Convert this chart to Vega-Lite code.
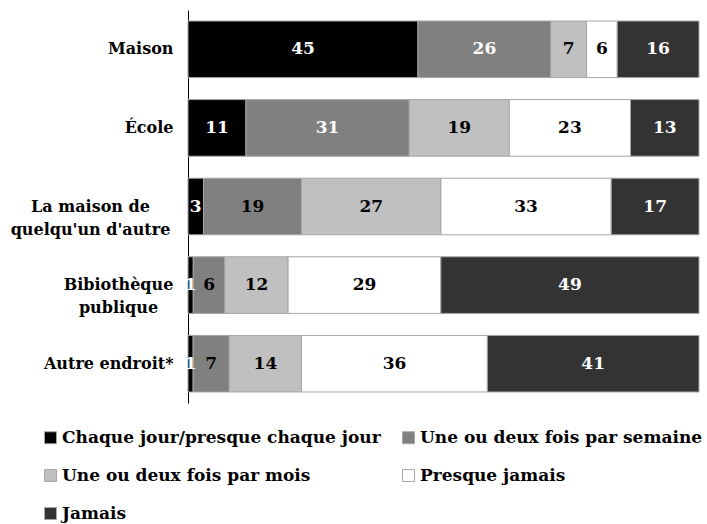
{
  "$schema": "https://vega.github.io/schema/vega-lite/v6.json",
  "autosize": {"type": "none"},
  "padding": {"left": 188, "top": 10, "right": 8, "bottom": 121},
  "width": 511,
  "height": 393,
  "config": {
    "view": {"stroke": null},
    "font": "DejaVu Serif"
  },
  "data": {
    "values": [
      {"place": "Maison", "freq": "Chaque jour/presque chaque jour", "value": 45},
      {"place": "Maison", "freq": "Une ou deux fois par semaine", "value": 26},
      {"place": "Maison", "freq": "Une ou deux fois par mois", "value": 7},
      {"place": "Maison", "freq": "Presque jamais", "value": 6},
      {"place": "Maison", "freq": "Jamais", "value": 16},
      {"place": "École", "freq": "Chaque jour/presque chaque jour", "value": 11},
      {"place": "École", "freq": "Une ou deux fois par semaine", "value": 31},
      {"place": "École", "freq": "Une ou deux fois par mois", "value": 19},
      {"place": "École", "freq": "Presque jamais", "value": 23},
      {"place": "École", "freq": "Jamais", "value": 13},
      {"place": "La maison de quelqu'un d'autre", "freq": "Chaque jour/presque chaque jour", "value": 3},
      {"place": "La maison de quelqu'un d'autre", "freq": "Une ou deux fois par semaine", "value": 19},
      {"place": "La maison de quelqu'un d'autre", "freq": "Une ou deux fois par mois", "value": 27},
      {"place": "La maison de quelqu'un d'autre", "freq": "Presque jamais", "value": 33},
      {"place": "La maison de quelqu'un d'autre", "freq": "Jamais", "value": 17},
      {"place": "Bibiothèque publique", "freq": "Chaque jour/presque chaque jour", "value": 1},
      {"place": "Bibiothèque publique", "freq": "Une ou deux fois par semaine", "value": 6},
      {"place": "Bibiothèque publique", "freq": "Une ou deux fois par mois", "value": 12},
      {"place": "Bibiothèque publique", "freq": "Presque jamais", "value": 29},
      {"place": "Bibiothèque publique", "freq": "Jamais", "value": 49},
      {"place": "Autre endroit*", "freq": "Chaque jour/presque chaque jour", "value": 1},
      {"place": "Autre endroit*", "freq": "Une ou deux fois par semaine", "value": 7},
      {"place": "Autre endroit*", "freq": "Une ou deux fois par mois", "value": 14},
      {"place": "Autre endroit*", "freq": "Presque jamais", "value": 36},
      {"place": "Autre endroit*", "freq": "Jamais", "value": 41}
    ]
  },
  "transform": [
    {"calculate": "indexof(['Chaque jour/presque chaque jour','Une ou deux fois par semaine','Une ou deux fois par mois','Presque jamais','Jamais'], datum.freq)", "as": "rank"}
  ],
  "encoding": {
    "y": {
      "field": "place",
      "type": "nominal",
      "sort": null,
      "scale": {"paddingInner": 0.28, "paddingOuter": 0.14},
      "axis": {
        "title": null,
        "ticks": false,
        "domainColor": "#000000",
        "domainWidth": 1,
        "labelFont": "DejaVu Serif",
        "labelFontWeight": "bold",
        "labelFontSize": 16,
        "labelColor": "#000000",
        "labelPadding": 15,
        "labelLimit": 300,
        "labelLineHeight": 23,
        "labelExpr": "datum.value == 'Bibiothèque publique' ? ['Bibiothèque', 'publique'] : (indexof(datum.value, 'La maison de') == 0 ? ['La maison de', \"quelqu'un d'autre\"] : datum.value)",
        "encoding": {
          "labels": {
            "align": {"condition": {"test": "datum.value == 'Bibiothèque publique' || indexof(datum.value, 'La maison de') == 0", "value": "center"}, "value": "right"},
            "dx": {"value": {"expr": "datum.value == 'Bibiothèque publique' ? -55 : (indexof(datum.value, 'La maison de') == 0 ? -83 : 0)"}}
          }
        }
      }
    },
    "x": {
      "field": "value",
      "type": "quantitative",
      "stack": "normalize",
      "axis": null,
      "scale": {"domain": [0, 1]}
    },
    "order": {"field": "rank", "type": "quantitative"}
  },
  "layer": [
    {
      "mark": {"type": "bar", "stroke": "#a6a6a6", "strokeWidth": 1},
      "encoding": {
        "color": {
          "field": "freq",
          "type": "nominal",
          "sort": ["Chaque jour/presque chaque jour", "Une ou deux fois par semaine", "Une ou deux fois par mois", "Presque jamais", "Jamais"],
          "scale": {
            "domain": ["Chaque jour/presque chaque jour", "Une ou deux fois par semaine", "Une ou deux fois par mois", "Presque jamais", "Jamais"],
            "range": ["#000000", "#808080", "#c0c0c0", "#ffffff", "#333333"]
          },
          "legend": {
            "title": null,
            "orient": "none",
            "legendX": -146,
            "legendY": 419,
            "direction": "horizontal",
            "columns": 2,
            "columnPadding": 19,
            "rowPadding": 20,
            "symbolType": "square",
            "symbolSize": 144,
            "symbolStrokeColor": "#a6a6a6",
            "symbolStrokeWidth": 1,
            "labelOffset": 3,
            "labelFont": "DejaVu Serif",
            "labelFontWeight": "bold",
            "labelFontSize": 17,
            "labelColor": "#000000",
            "labelLimit": 400
          }
        }
      }
    },
    {
      "mark": {"type": "text", "font": "DejaVu Serif", "fontWeight": "bold", "fontSize": 17, "align": "center", "baseline": "middle"},
      "encoding": {
        "x": {"field": "value", "type": "quantitative", "stack": "normalize", "bandPosition": 0.5},
        "text": {"field": "value", "type": "quantitative"},
        "color": {
          "condition": {
            "test": "datum.freq == 'Chaque jour/presque chaque jour' || datum.freq == 'Jamais' || (datum.freq == 'Une ou deux fois par semaine' && (datum.place == 'Maison' || datum.place == 'École'))",
            "value": "#ffffff"
          },
          "value": "#000000"
        }
      }
    }
  ]
}
